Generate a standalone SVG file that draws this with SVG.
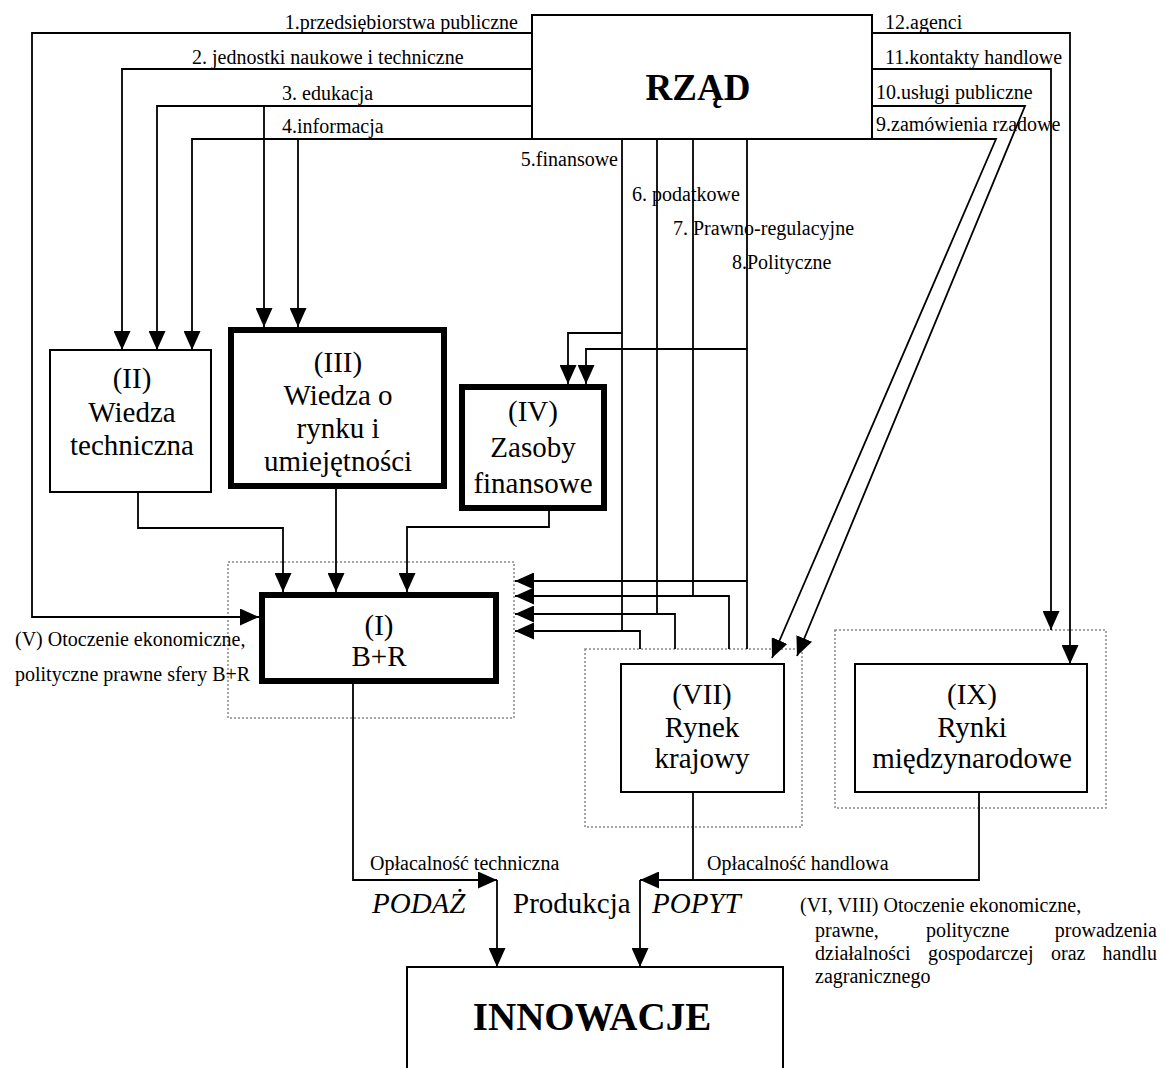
<svg xmlns="http://www.w3.org/2000/svg" width="1166" height="1068" viewBox="0 0 1166 1068">
<defs>
<marker id="ah" viewBox="0 0 19 17" refX="19" refY="8.5" markerWidth="19" markerHeight="17" markerUnits="userSpaceOnUse" orient="auto"><path d="M0,0 L19,8.5 L0,17 z" fill="#000"/></marker>
<style>
text { font-family: "Liberation Serif", "Times New Roman", serif; fill: #000; }
.lbl { font-size: 20px; }
.node { font-size: 29px; text-anchor: middle; }
.big { font-weight: bold; text-anchor: middle; }
.flow { font-size: 29px; }
.it { font-style: italic; }
.box { fill: #fff; stroke: #000; stroke-width: 2; }
.thick { fill: #fff; stroke: #000; stroke-width: 6; }
.env { fill: none; stroke: #888; stroke-width: 1.5; stroke-dasharray: 2 2; }
.ln { fill: none; stroke: #000; stroke-width: 1.8; }
.arr { marker-end: url(#ah); }
</style>
</defs>
<rect width="1166" height="1068" fill="#fff"/>

<!-- environment frames (dotted) -->
<g id="env-V"><rect class="env" x="228" y="562" width="286" height="156"/>
<text class="lbl" x="15" y="646">(V) Otoczenie ekonomiczne,</text>
<text class="lbl" x="15" y="681">polityczne prawne sfery B+R</text></g>
<g id="env-VII"><rect class="env" x="585" y="649" width="217" height="178"/></g>
<g id="env-IX"><rect class="env" x="835" y="630" width="271" height="178"/></g>

<!-- connectors -->
<g id="connectors">
<text class="lbl" x="518" y="29" text-anchor="end">1.przedsiębiorstwa publiczne</text>
<text class="lbl" x="192" y="64">2. jednostki naukowe i techniczne</text>
<text class="lbl" x="282" y="100">3. edukacja</text>
<text class="lbl" x="282" y="133">4.informacja</text>
<text class="lbl" x="618" y="166" text-anchor="end">5.finansowe</text>
<text class="lbl" x="632" y="201">6. podatkowe</text>
<text class="lbl" x="673" y="235">7. Prawno-regulacyjne</text>
<text class="lbl" x="732" y="269">8.Polityczne</text>
<text class="lbl" x="885" y="29">12.agenci</text>
<text class="lbl" x="885" y="64">11.kontakty handlowe</text>
<text class="lbl" x="876" y="99">10.usługi publiczne</text>
<text class="lbl" x="876" y="131">9.zamówienia rzadowe</text>
<text class="lbl" x="370" y="870">Opłacalność techniczna</text>
<text class="lbl" x="707" y="870">Opłacalność handlowa</text>
<text class="flow it" x="372" y="913">PODAŻ</text>
<text class="flow" x="513" y="913">Produkcja</text>
<text class="flow it" x="652" y="913">POPYT</text>

<!-- 1-4: to knowledge nodes and B+R -->
<path class="ln arr" d="M532,33 H32 V617 H259"/>
<path class="ln arr" d="M532,69 H122 V350"/>
<path class="ln arr" d="M532,106 H157 V350"/>
<path class="ln arr" d="M264,106 V327"/>
<path class="ln arr" d="M532,139 H192 V350"/>
<path class="ln arr" d="M298,139 V327"/>
<!-- 5-8: financial, tax, legal, political -->
<path class="ln" d="M622,139 V631"/>
<path class="ln" d="M657,139 V614"/>
<path class="ln" d="M693,139 V596"/>
<path class="ln" d="M747,139 V649"/>
<path class="ln arr" d="M622,333 H568 V384"/>
<path class="ln arr" d="M747,349 H586 V384"/>
<path class="ln arr" d="M747,581 H515"/>
<path class="ln arr" d="M729,649 V596 H515"/>
<path class="ln arr" d="M675,649 V614 H515"/>
<path class="ln arr" d="M640,649 V631 H515"/>
<!-- 9-12: markets -->
<path class="ln arr" d="M872,139 H996 L772,658"/>
<path class="ln arr" d="M872,106 H1025 L797,656"/>
<path class="ln arr" d="M872,69 H1051 V630"/>
<path class="ln arr" d="M872,33 H1070 V664"/>
<!-- into B+R -->
<path class="ln arr" d="M138,492 V528 H283 V592"/>
<path class="ln arr" d="M336,489 V592"/>
<path class="ln arr" d="M549,511 V527 H407 V592"/>
<!-- supply / demand -->
<path class="ln arr" d="M353,684 V880 H497"/>
<path class="ln arr" d="M497,880 V967"/>
<path class="ln" d="M693,792 V880"/>
<path class="ln arr" d="M979,792 V880 H640"/>
<path class="ln arr" d="M640,880 V967"/>
</g>

<!-- nodes -->
<g id="rzad"><rect class="box" x="532" y="15" width="340" height="124"/>
<text class="big" x="698" y="100" font-size="37">RZĄD</text></g>

<g id="n-II"><rect class="box" x="50" y="350" width="161" height="142"/>
<text class="node" x="132" y="388">(II)</text>
<text class="node" x="132" y="422">Wiedza</text>
<text class="node" x="132" y="455">techniczna</text></g>

<g id="n-III"><rect class="thick" x="231" y="330" width="213" height="156"/>
<text class="node" x="338" y="372">(III)</text>
<text class="node" x="338" y="405">Wiedza o</text>
<text class="node" x="338" y="438">rynku i</text>
<text class="node" x="338" y="471">umiejętności</text></g>

<g id="n-IV"><rect class="thick" x="462" y="387" width="142" height="121"/>
<text class="node" x="533" y="421">(IV)</text>
<text class="node" x="533" y="457">Zasoby</text>
<text class="node" x="533" y="493">finansowe</text></g>

<g id="n-I"><rect class="thick" x="262" y="595" width="234" height="86"/>
<text class="node" x="379" y="635">(I)</text>
<text class="node" x="379" y="666">B+R</text></g>

<g id="n-VII"><rect class="box" x="621" y="664" width="163" height="128"/>
<text class="node" x="702" y="704">(VII)</text>
<text class="node" x="702" y="737">Rynek</text>
<text class="node" x="702" y="768">krajowy</text></g>

<g id="n-IX"><rect class="box" x="855" y="664" width="232" height="128"/>
<text class="node" x="972" y="704">(IX)</text>
<text class="node" x="972" y="737">Rynki</text>
<text class="node" x="972" y="768">międzynarodowe</text></g>

<g id="innowacje"><rect class="box" x="407" y="967" width="376" height="120"/>
<text class="big" x="592" y="1030" font-size="39">INNOWACJE</text></g>

<g id="env-VI-VIII">
<text class="lbl" x="800" y="912">(VI, VIII) Otoczenie ekonomiczne,</text>
<text class="lbl" x="815" y="937">prawne,</text>
<text class="lbl" x="926" y="937">polityczne</text>
<text class="lbl" x="1157" y="937" text-anchor="end">prowadzenia</text>
<text class="lbl" x="815" y="960">działalności</text>
<text class="lbl" x="928" y="960">gospodarczej</text>
<text class="lbl" x="1051" y="960">oraz</text>
<text class="lbl" x="1157" y="960" text-anchor="end">handlu</text>
<text class="lbl" x="815" y="983">zagranicznego</text>
</g>
</svg>
